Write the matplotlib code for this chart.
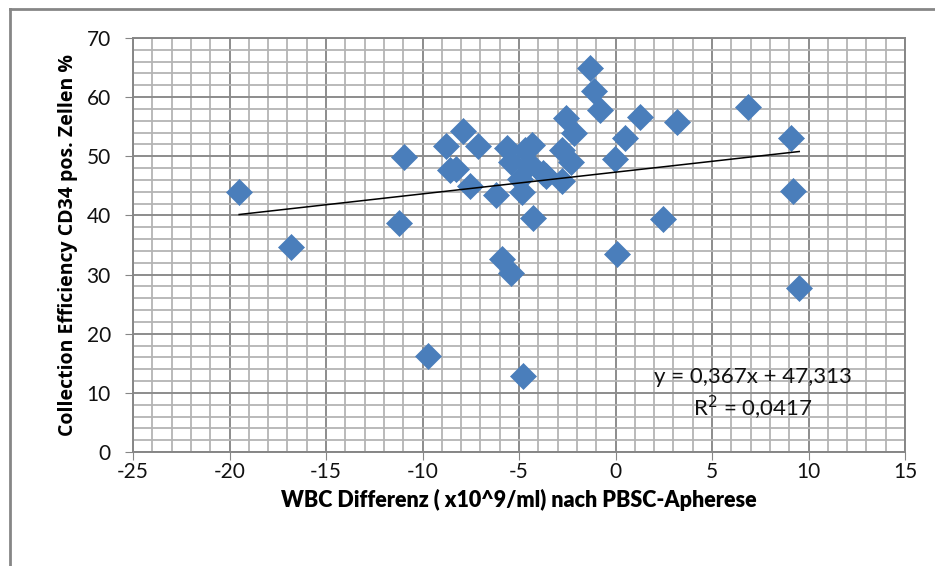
import matplotlib.pyplot as plt
import matplotlib.lines as mlines
import numpy as np

plt.rcParams["axes.unicode_minus"] = False

# Datos
wbc_diff = [-19.5, -16.8, -11.2, -10.95, -9.7, -8.8, -8.55, -8.25, -7.9, -7.15,
            -7.55, -6.18, -5.9, -5.4, -5.64, -5.4, -4.95, -4.86, -4.8, -4.68,
            -4.32, -4.42, -4.28, -3.74, -3.62, -2.77, -2.75, -2.55, -2.33, -2.15,
            -1.3, -1.1, -0.8, -0.03, 0.1, 0.5, 1.28, 2.48, 3.2, 6.88,
            9.07, 9.2, 9.52]
cd34_eff = [44.0, 34.7, 38.8, 49.9, 16.2, 51.8, 47.6, 47.9, 54.2, 51.8,
            45.0, 43.4, 32.7, 30.3, 51.4, 49.0, 46.2, 43.9, 12.8, 51.1,
            51.9, 48.7, 39.6, 47.1, 46.6, 51.1, 45.8, 56.5, 49.0, 53.9,
            65.0, 61.1, 57.9, 49.5, 33.5, 53.1, 56.6, 39.4, 55.8, 58.3,
            53.1, 44.1, 27.7]

# Linea de tendencia (Excel)
pendiente = 0.367
ordenada = 47.313

x_ticks = [-25, -20, -15, -10, -5, 0, 5, 10, 15]
y_ticks = [0, 10, 20, 30, 40, 50, 60, 70]

fig = plt.figure(figsize=(9.35, 5.66), dpi=100)
ax = fig.add_axes([133/935, 1-452/566, (905-133)/935, (452-38)/566])

# cuadricula
ax.set_xticks(np.arange(-25, 16, 1), minor=True)
ax.set_yticks(np.arange(0, 71, 2), minor=True)
ax.grid(which="minor", color="#b4b4b4", linewidth=1.3, zorder=0)
ax.grid(which="major", color="#8c8c8c", linewidth=1.4, zorder=0)
ax.set_axisbelow(True)

ax.scatter(wbc_diff, cd34_eff, marker="D", s=175, color="#4a7ebb",
           edgecolors="#4a7ebb", linewidths=0.5, zorder=3)

xt = np.array([min(wbc_diff), max(wbc_diff)])
ax.plot(xt, pendiente*xt + ordenada, color="black", linewidth=1.1, zorder=4)

ax.text(7.1, 12.7, "y = 0,367x + 47,313", ha="center", va="center",
        fontsize=16, family="Lato", color="#111111", zorder=5)
ax.text(7.1, 7.4, "R$^2$ = 0,0417", ha="center", va="center",
        fontsize=16, family="Lato", color="#111111", zorder=5)

ax.set_xlim(-25, 15)
ax.set_ylim(0, 70)
ax.set_xticks(x_ticks)
ax.set_yticks(y_ticks)
ax.tick_params(which="major", length=6, color="#868686", labelsize=15)
ax.tick_params(axis="x", which="major", pad=1)
ax.tick_params(axis="y", which="major", pad=10)
ax.tick_params(which="minor", length=0)
for lab in ax.get_xticklabels() + ax.get_yticklabels():
    lab.set_family("Lato")
    lab.set_color("#111111")
for s in ax.spines.values():
    s.set_color("#868686")
    s.set_linewidth(1.4)

ax.set_xlabel("WBC Differenz ( x10^9/ml) nach PBSC-Apherese", fontsize=15.5,
              family="Lato", fontweight="heavy", labelpad=5)
ax.set_ylabel("Collection Efficiency CD34 pos. Zellen %", fontsize=14,
              family="Open Sans", fontweight="bold", labelpad=6)

# marco del grafico
fig.add_artist(mlines.Line2D([10/935, 10/935], [0, 1-9/566], color="#868686", linewidth=2))
fig.add_artist(mlines.Line2D([10/935, 1], [1-9/566, 1-9/566], color="#868686", linewidth=2))

fig.savefig("out.png", dpi=100)
